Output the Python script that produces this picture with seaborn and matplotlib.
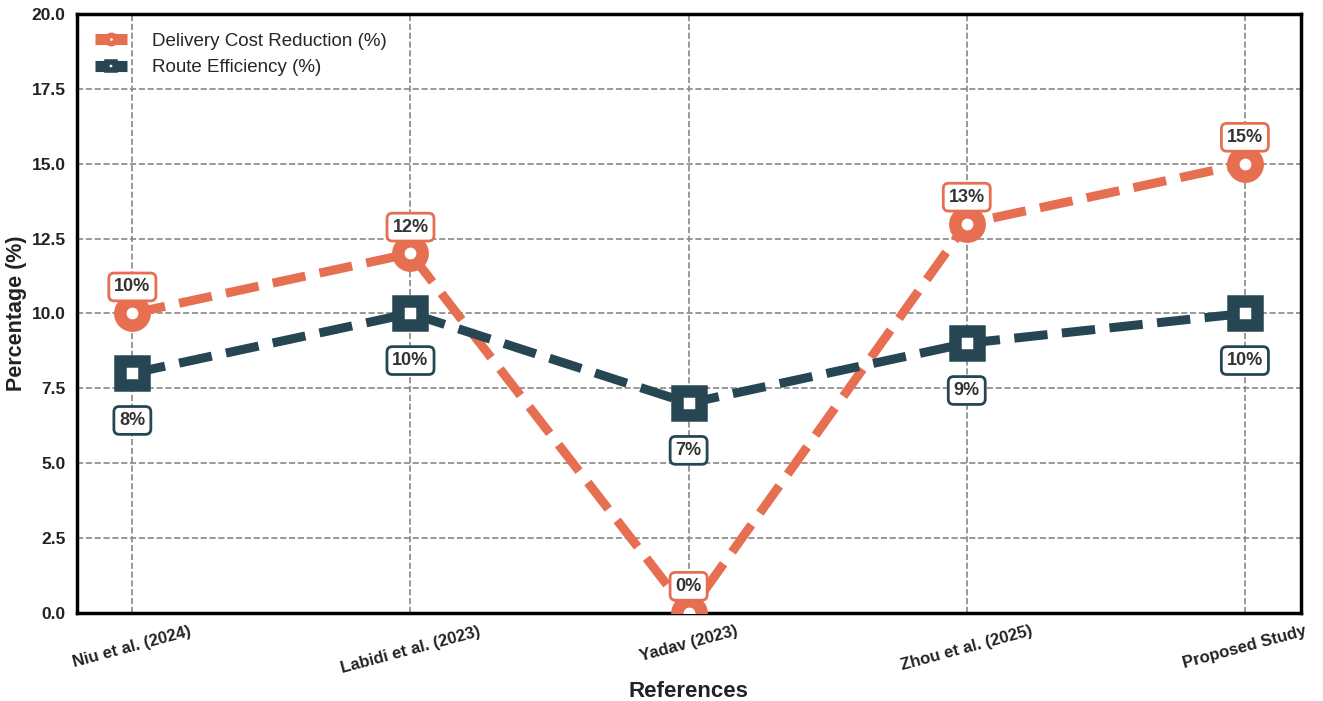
import matplotlib
matplotlib.use("Agg")
import matplotlib.pyplot as plt
import seaborn as sns
import pandas as pd

references = ["Niu et al. (2024)", "Labidi et al. (2023)", "Yadav (2023)", "Zhou et al. (2025)", "Proposed Study"]
cost_reduction = [10, 12, 0, 13, 15]
route_efficiency = [8, 10, 7, 9, 10]
series_names = ["Delivery Cost Reduction (%)", "Route Efficiency (%)"]
colors = ["#E76F51", "#264653"]

sns.set_theme(style="whitegrid")
plt.rcParams['font.family'] = ['Liberation Sans', 'DejaVu Sans']

df = pd.DataFrame({"ref": references * 2,
                   "x": list(range(len(references))) * 2,
                   "value": cost_reduction + route_efficiency,
                   "series": [series_names[0]] * 5 + [series_names[1]] * 5})

fig, ax = plt.subplots(figsize=(13.23, 7.01), dpi=100)
fig.subplots_adjust(left=0.058, right=0.983, top=0.98, bottom=0.126)

markers = ["o", "s"]
for i, name in enumerate(series_names):
    sub = df[df.series == name]
    sns.lineplot(data=sub, x="x", y="value", ax=ax, color=colors[i], linewidth=6.5,
                 linestyle="--", marker=markers[i], markersize=17.5,
                 markerfacecolor="white", markeredgecolor=colors[i], markeredgewidth=9,
                 label=name, zorder=3 + i)

for xi, v in enumerate(cost_reduction):
    ax.annotate(f"{v}%", (xi, v), xytext=(0, 19), textcoords="offset points",
                ha="center", va="center", fontsize=13, fontweight="bold", color="#333333",
                bbox=dict(boxstyle="round,pad=0.3", fc="white", ec=colors[0], lw=2), zorder=6)
for xi, v in enumerate(route_efficiency):
    ax.annotate(f"{v}%", (xi, v), xytext=(0, -34), textcoords="offset points",
                ha="center", va="center", fontsize=13, fontweight="bold", color="#333333",
                bbox=dict(boxstyle="round,pad=0.3", fc="white", ec=colors[1], lw=2), zorder=6)

ax.set_xlim(-0.2, 4.2)
ax.set_ylim(0, 20)
ax.set_xticks(range(len(references)))
ax.set_xticklabels(references, rotation=15, ha="center", fontweight="bold", fontsize=12, color="#222222")
yt = [0, 2.5, 5, 7.5, 10, 12.5, 15, 17.5, 20]
ax.set_yticks(yt)
ax.set_yticklabels([f"{t:.1f}" for t in yt], fontweight="bold", fontsize=12.5, color="#222222")
ax.tick_params(axis="both", pad=2)
ax.set_xlabel("References", fontsize=16, fontweight="bold", color="#222222", labelpad=4)
ax.set_ylabel("Percentage (%)", fontsize=15.5, fontweight="bold", color="#222222", labelpad=3)

ax.grid(True, linestyle="--", color="#888888", linewidth=1.2)
for s in ax.spines.values():
    s.set_visible(True)
    s.set_color("black")
    s.set_linewidth(2.5)

leg = ax.legend(loc="upper left", frameon=False, fontsize=13.5, handlelength=1.7,
                borderaxespad=0.6, labelspacing=0.5, handletextpad=1.3)
for h in leg.legend_handles:
    h.set_markersize(6)
    h.set_markeredgewidth(4)
    h.set_linestyle("-")
    h.set_linewidth(8)
    h.set_solid_capstyle("butt")

fig.savefig("out.png", dpi=100)
